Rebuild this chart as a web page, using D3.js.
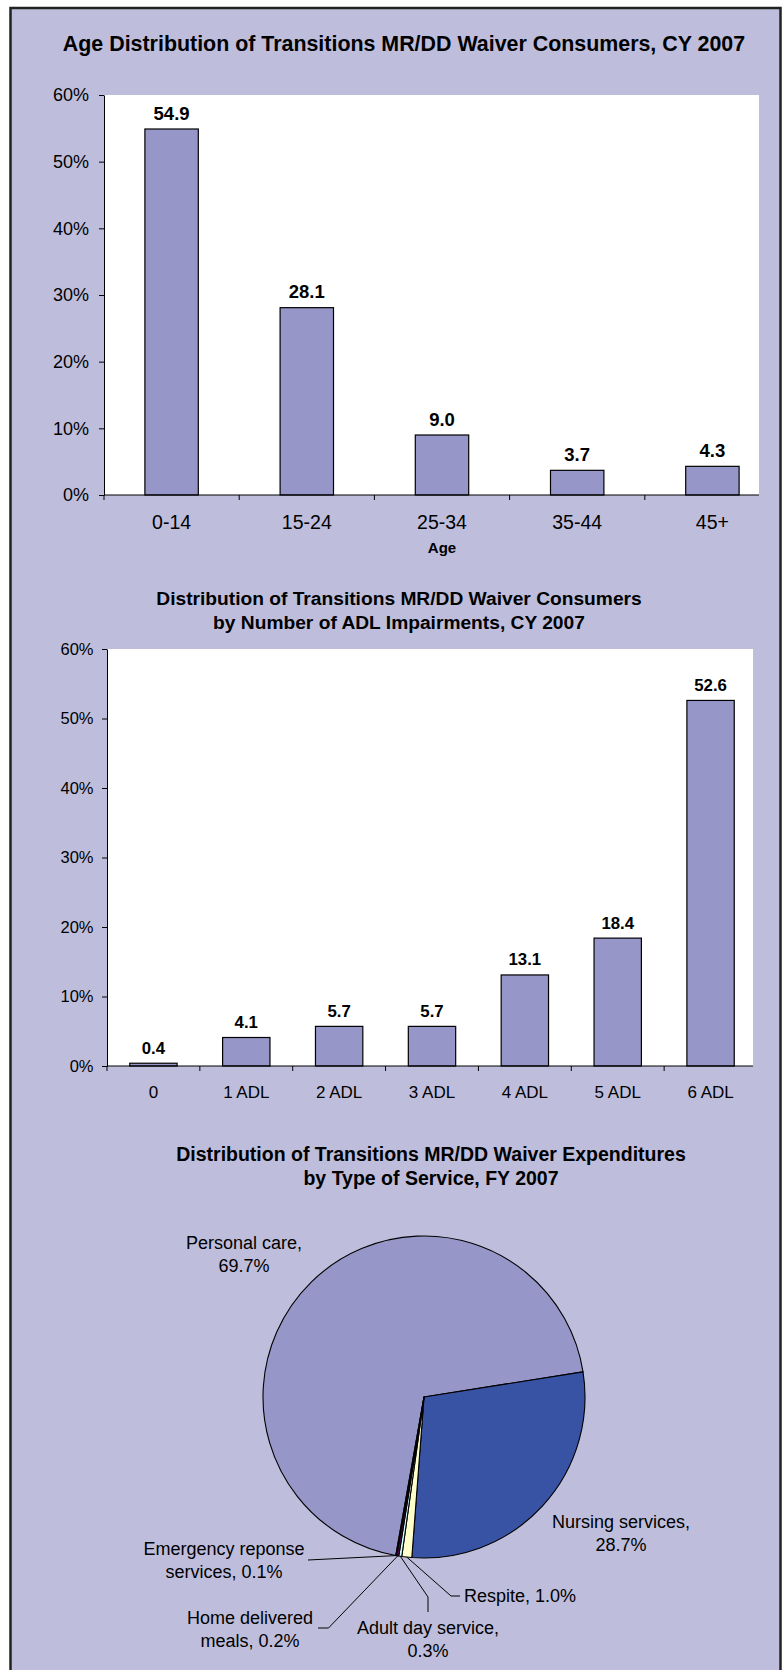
<!DOCTYPE html>
<html>
<head>
<meta charset="utf-8">
<script src="https://cdn.jsdelivr.net/npm/d3@7"></script>
<style>
body{margin:0;background:#fff;}
text{font-family:"Liberation Sans",Arial,sans-serif;fill:#000;}
</style>
</head>
<body>
<script>
// chart 1: age groups
var ageGroups = ["0-14","15-24","25-34","35-44","45+"];
var ageShares = [54.9,28.1,9.0,3.7,4.3];

// chart 2: number of ADL impairments
var adlGroups = ["0","1 ADL","2 ADL","3 ADL","4 ADL","5 ADL","6 ADL"];
var adlShares = [0.4,4.1,5.7,5.7,13.1,18.4,52.6];

// chart 3: expenditures by service
var services = ["Personal care","Nursing services","Respite","Adult day service","Home delivered meals","Emergency reponse services"];
var serviceShares = [69.7,28.7,1.0,0.3,0.2,0.1];
var serviceColors = ["#9696C8","#3953A4","#FFFFCC","#CCFFFF","#660066","#FF8080"];

var yTicks = [0,10,20,30,40,50,60];

var W = 784, H = 1670;
var svg = d3.select("body").append("svg").attr("width",W).attr("height",H);

// outer frame
svg.append("rect")
  .attr("x",10.5).attr("y",8)
  .attr("width",770).attr("height",1700)
  .attr("fill","#BEBEDC")
  .attr("stroke","#222").attr("stroke-width",2.5);

function title(lines,cx,y0,size){
  lines.forEach(function(t,i){
    svg.append("text")
      .attr("x",cx).attr("y",y0+i*24)
      .attr("text-anchor","middle")
      .style("font-size",size+"px").style("font-weight","bold")
      .text(t);
  });
}

function barChart(cats,vals,o){
  // bands run a little past the white plot area, as in the original
  var x = d3.scaleBand().domain(cats).range([o.left,o.bandEnd])
    .paddingInner(o.pad).paddingOuter(o.pad/2);
  var y = d3.scaleLinear().domain([0,60]).range([o.bottom,o.top]);
  var g = svg.append("g");

  g.append("rect")
    .attr("x",o.left).attr("y",o.top)
    .attr("width",o.right-o.left).attr("height",o.bottom-o.top)
    .attr("fill","#fff");

  g.selectAll(".bar").data(vals).enter().append("rect")
    .attr("class","bar")
    .attr("x",function(d,i){return x(cats[i]);})
    .attr("y",function(d){return y(d);})
    .attr("width",x.bandwidth())
    .attr("height",function(d){return y(0)-y(d);})
    .attr("fill","#9696C8")
    .attr("stroke","#000").attr("stroke-width",1.2);

  g.selectAll(".val").data(vals).enter().append("text")
    .attr("class","val")
    .attr("x",function(d,i){return x(cats[i])+x.bandwidth()/2;})
    .attr("y",function(d){return y(d)-9.5;})
    .attr("text-anchor","middle")
    .style("font-size",o.valSize+"px").style("font-weight","bold")
    .text(function(d){return d.toFixed(1);});

  // y axis
  var ya = g.append("g").attr("transform","translate("+o.left+",0)")
    .call(d3.axisLeft(y).tickValues(yTicks).tickFormat(function(d){return d+"%";})
      .tickSize(5).tickSizeOuter(0).tickPadding(o.yPad));
  ya.selectAll("text").style("font-size",o.tickSize+"px").attr("fill","#000");
  ya.selectAll("line,path").attr("stroke","#000");

  // x axis
  var xa = g.append("g").attr("transform","translate(0,"+o.bottom+")")
    .call(d3.axisBottom(x).tickSize(0).tickPadding(20));
  xa.select("path").attr("stroke","#000").attr("d","M"+o.left+",0H"+o.right);
  xa.selectAll("text").style("font-size",o.catSize+"px").attr("fill","#000");

  // ticks at the band boundaries
  var off = x.step()*o.pad/2;
  g.selectAll(".bt").data(cats).enter().append("line")
    .attr("x1",function(d){return x(d)-off;})
    .attr("x2",function(d){return x(d)-off;})
    .attr("y1",o.bottom).attr("y2",o.bottom+5)
    .attr("stroke","#000");
  return x;
}

// ---- chart 1
title(["Age Distribution of Transitions MR/DD Waiver Consumers, CY 2007"],404,51,21.4);
var x1 = barChart(ageGroups,ageShares,{left:104,right:759,bandEnd:780,top:95,bottom:495,
  pad:0.605,valSize:18.5,tickSize:18,catSize:19.5,yPad:10});
svg.append("text").attr("x",(x1.range()[0]+x1.range()[1])/2).attr("y",552.5)
  .attr("text-anchor","middle")
  .style("font-size","15px").style("font-weight","bold")
  .text("Age");

// ---- chart 2
title(["Distribution of Transitions MR/DD Waiver Consumers","by Number of ADL Impairments, CY 2007"],399,605,19.2);
barChart(adlGroups,adlShares,{left:107,right:753,bandEnd:757,top:649,bottom:1066,
  pad:0.49,valSize:16.8,tickSize:16.5,catSize:17,yPad:8.5});

// ---- chart 3: pie
title(["Distribution of Transitions MR/DD Waiver Expenditures","by Type of Service, FY 2007"],431,1161,19.5);

var pc = {x:424,y:1397}, r = 161;
var a0 = 190.1*Math.PI/180;
var pie = d3.pie().sort(null).value(function(d){return d;})
  .startAngle(a0).endAngle(a0+2*Math.PI);
var arc = d3.arc().innerRadius(0).outerRadius(r);
var arcs = pie(serviceShares);

var pg = svg.append("g").attr("transform","translate("+pc.x+","+pc.y+")");
pg.selectAll("path").data(arcs).enter().append("path")
  .attr("d",arc)
  .attr("fill",function(d,i){return serviceColors[i];})
  .attr("stroke","#000").attr("stroke-width",1.1)
  .attr("stroke-linejoin","round");

// label placement, relative to pie centre
var pieLabels = [
  {tx:-180, ty:-154, anchor:"middle", wrap:2, leader:null},
  {tx:197,  ty:125,  anchor:"middle", wrap:2, leader:null},
  {tx:40,   ty:199,  anchor:"start",  wrap:0, leader:[[27,199],[36,199]]},
  {tx:4,    ty:231,  anchor:"middle", wrap:3, leader:[[4,200],[4,215]]},
  {tx:-174, ty:221,  anchor:"middle", wrap:2, leader:[[-95.5,231],[-106,231]]},
  {tx:-200, ty:152,  anchor:"middle", wrap:2, leader:[[-116,163]]}
];

arcs.forEach(function(d,i){
  var L = pieLabels[i];
  if(L.leader){
    var mid = (d.startAngle+d.endAngle)/2;
    var pts = [[r*Math.sin(mid),-r*Math.cos(mid)]].concat(L.leader);
    pg.append("path")
      .attr("d",d3.line()(pts))
      .attr("fill","none").attr("stroke","#000").attr("stroke-width",1);
  }
  var words = (services[i]+", "+serviceShares[i].toFixed(1)+"%").split(" ");
  var lines = L.wrap ? [words.slice(0,L.wrap).join(" "),words.slice(L.wrap).join(" ")] : [words.join(" ")];
  lines.forEach(function(t,k){
    pg.append("text")
      .attr("x",L.tx).attr("y",L.ty+k*22.5)
      .attr("dy","0.35em")
      .attr("text-anchor",L.anchor)
      .style("font-size","18px")
      .text(t);
  });
});
</script>
</body>
</html>
